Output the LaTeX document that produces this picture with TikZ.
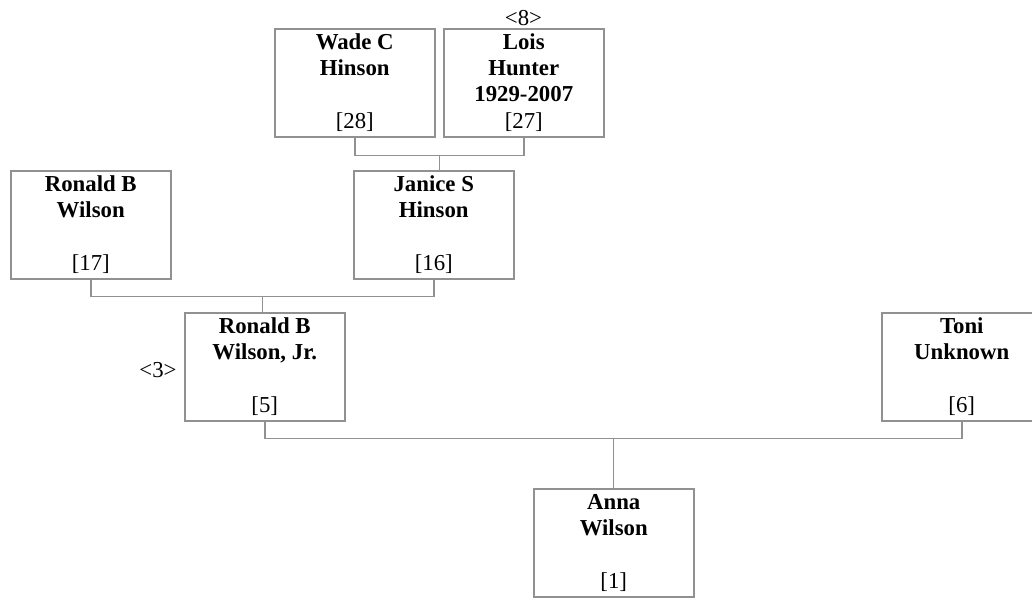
\documentclass[tikz,border=0pt]{standalone}
\usepackage{fontspec}
\setmainfont{Liberation Serif}
\usetikzlibrary{calc}
\definecolor{edge}{RGB}{145,145,145}
\begin{document}
\begin{tikzpicture}[x=1pt,y=-1pt,
  person/.style={draw=edge, line width=1.5pt, minimum width=160pt, minimum height=108pt, inner sep=0pt, anchor=north west},
  nametext/.style={anchor=north, inner sep=0pt, align=center, yshift=-2.8pt, font=\fontsize{22.8}{26}\selectfont\bfseries},
  idtext/.style={anchor=base, inner sep=0pt, yshift=9pt, font=\fontsize{22.8}{26}\selectfont},
  marktext/.style={anchor=base, inner sep=0pt, font=\fontsize{22.8}{26}\selectfont},
  link/.style={draw=edge, line width=1.5pt}]
\useasboundingbox (0,0) rectangle (1032,597);
\clip (0,0) rectangle (1032,597);
\fill[white] (0,0) rectangle (1032,597);

% boxes
\node[person] (wade)   at (274,28)  {};
\node[person] (lois)   at (443,28)  {};
\node[person] (ronsr)  at (10,170)  {};
\node[person] (janice) at (353,170) {};
\node[person] (ronjr)  at (184,312) {};
\node[person] (toni)   at (881,312) {};
\node[person] (anna)   at (533,488) {};

% names
\node[nametext] (wadeN)   at (wade.north)   {\strut Wade C\\Hinson};
\node[nametext] (loisN)   at (lois.north)   {\strut Lois\\Hunter\\1929-2007};
\node[nametext] (ronsrN)  at (ronsr.north)  {\strut Ronald B\\Wilson};
\node[nametext] (janiceN) at (janice.north) {\strut Janice S\\Hinson};
\node[nametext] (ronjrN)  at (ronjr.north)  {\strut Ronald B\\Wilson, Jr.};
\node[nametext] (toniN)   at (toni.north)   {\strut Toni\\Unknown};
\node[nametext] (annaN)   at (anna.north)   {\strut Anna\\Wilson};

% ids
\node[idtext] (wadeI)   at (wade.south)   {[28]};
\node[idtext] (loisI)   at (lois.south)   {[27]};
\node[idtext] (ronsrI)  at (ronsr.south)  {[17]};
\node[idtext] (janiceI) at (janice.south) {[16]};
\node[idtext] (ronjrI)  at (ronjr.south)  {[5]};
\node[idtext] (toniI)   at (toni.south)   {[6]};
\node[idtext] (annaI)   at (anna.south)   {[1]};

% markers
\node[marktext] (m8) at (523.5,25) {<8>};
\node[marktext] (m3) at (158,377) {<3>};

% connectors
\coordinate (wl) at ($(wade.south)!0.5!(lois.south)+(0,18)$);
\draw[link] (wade.south) |- (wl) -| (lois.south);
\draw[link] (wl) -- (wl |- janice.north);

\coordinate (rj) at ($(ronsr.south)!0.5!(janice.south)+(0,17)$);
\draw[link] (ronsr.south) |- (rj) -| (janice.south);
\draw[link] (rj) -- (rj |- ronjr.north);

\coordinate (rt) at ($(ronjr.south)!0.5!(toni.south)+(0,17)$);
\draw[link] (ronjr.south) |- (rt) -| (toni.south);
\draw[link] (rt) -- (rt |- anna.north);
\end{tikzpicture}
\end{document}
